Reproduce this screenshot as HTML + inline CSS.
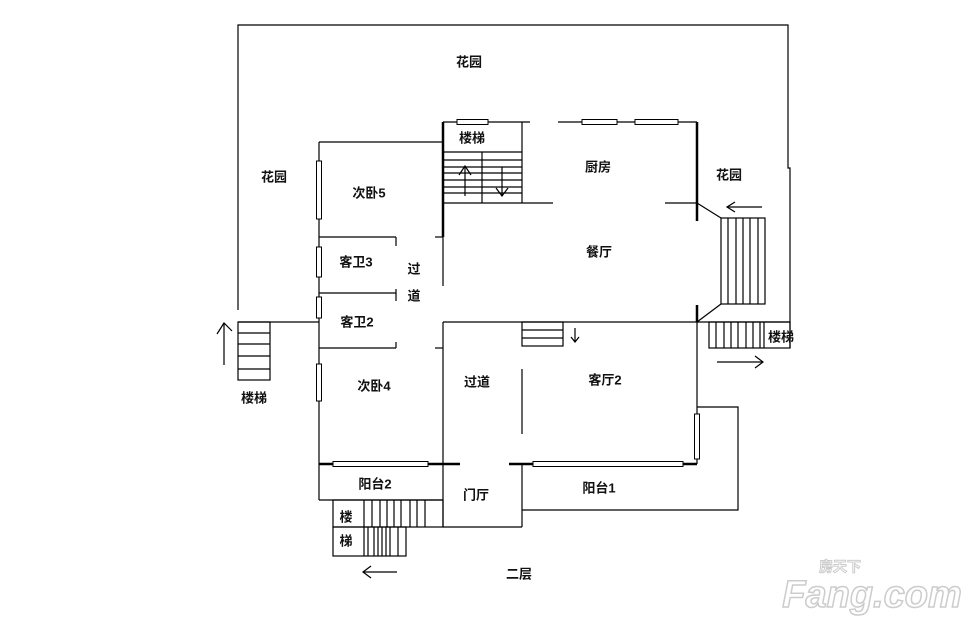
<!DOCTYPE html>
<html><head><meta charset="utf-8"><style>
html,body{margin:0;padding:0;background:#fff;}
svg{display:block;}
text{font-family:"Liberation Sans","Noto Sans CJK SC",sans-serif;font-size:13px;font-weight:bold;fill:#111;text-anchor:middle;dominant-baseline:middle;}
</style></head><body>
<svg width="980" height="629" viewBox="0 0 980 629" xmlns="http://www.w3.org/2000/svg">
<g stroke="#000" stroke-width="1.2" fill="none">
<polyline points="238,310 238,25 788,25 788,168 790,168 790,348"/>
<line x1="238" y1="322" x2="319" y2="322"/>
<rect x="238" y="322" width="32" height="58"/>
<line x1="238" y1="333" x2="270" y2="333"/><line x1="238" y1="344" x2="270" y2="344"/>
<line x1="238" y1="356" x2="270" y2="356"/><line x1="238" y1="369" x2="270" y2="369"/>
<line x1="224" y1="365" x2="224" y2="323"/><polyline points="217,334 224,323 232,331"/>
<line x1="319" y1="142" x2="319" y2="500"/>
<line x1="319" y1="142" x2="443" y2="142"/>
<line x1="319" y1="237" x2="396" y2="237"/><line x1="396" y1="237" x2="396" y2="246"/>
<line x1="435" y1="237" x2="443" y2="237"/>
<line x1="319" y1="293" x2="396" y2="293"/><line x1="396" y1="289" x2="396" y2="301"/>
<line x1="319" y1="348" x2="396" y2="348"/><line x1="396" y1="342" x2="396" y2="348"/>
<line x1="435" y1="348" x2="443" y2="348"/>
<line x1="443" y1="237" x2="443" y2="286"/>
<line x1="443" y1="122" x2="443" y2="237" stroke-width="2.5"/>
<line x1="443" y1="122" x2="530" y2="122"/>
<line x1="558" y1="122" x2="697" y2="122"/>
<line x1="443" y1="152" x2="522" y2="152"/>
<line x1="443" y1="160" x2="522" y2="160"/><line x1="443" y1="167" x2="522" y2="167"/>
<line x1="443" y1="173" x2="522" y2="173"/><line x1="443" y1="180" x2="522" y2="180"/>
<line x1="443" y1="187" x2="522" y2="187"/><line x1="443" y1="193" x2="522" y2="193"/>
<line x1="443" y1="203" x2="553" y2="203"/>
<line x1="482" y1="152" x2="482" y2="203"/><line x1="522" y1="122" x2="522" y2="203"/>
<line x1="465" y1="196" x2="465" y2="167"/><polyline points="459,175 465,166 471,175"/>
<line x1="502" y1="167" x2="502" y2="196"/><polyline points="496,188 502,196 508,188"/>
<line x1="665" y1="203" x2="697" y2="203"/>
<line x1="697" y1="122" x2="697" y2="221" stroke-width="2.5"/>
<line x1="697" y1="305" x2="697" y2="322" stroke-width="2.5"/>
<line x1="697" y1="203" x2="721" y2="218"/><line x1="721" y1="304" x2="697" y2="322"/>
<rect x="721" y="218" width="44" height="86"/>
<line x1="728" y1="218" x2="728" y2="304"/><line x1="736" y1="218" x2="736" y2="304"/>
<line x1="743" y1="218" x2="743" y2="304"/><line x1="750" y1="218" x2="750" y2="304"/>
<line x1="758" y1="218" x2="758" y2="304"/>
<line x1="727" y1="207" x2="762" y2="207"/><polyline points="735,202 727,207 735,212"/>
<line x1="443" y1="322" x2="790" y2="322"/>
<rect x="709" y="322" width="81" height="26"/>
<line x1="716" y1="322" x2="716" y2="348"/><line x1="724" y1="322" x2="724" y2="348"/>
<line x1="731" y1="322" x2="731" y2="348"/><line x1="738" y1="322" x2="738" y2="348"/>
<line x1="746" y1="322" x2="746" y2="348"/><line x1="753" y1="322" x2="753" y2="348"/>
<line x1="760" y1="322" x2="760" y2="348"/><line x1="764" y1="322" x2="764" y2="348"/>
<line x1="717" y1="362" x2="763" y2="362"/><polyline points="755,356 763,362 755,368"/>
<line x1="443" y1="322" x2="443" y2="527"/>
<line x1="697" y1="322" x2="697" y2="464"/>
<polyline points="697,407 738,407 738,510 522,510"/>
<line x1="522" y1="369" x2="522" y2="434"/>
<line x1="522" y1="464" x2="522" y2="527"/>
<line x1="443" y1="527" x2="522" y2="527"/>
<rect x="522" y="322" width="41" height="24"/>
<line x1="522" y1="330" x2="563" y2="330"/><line x1="522" y1="338" x2="563" y2="338"/>
<line x1="575" y1="328" x2="575" y2="342"/><polyline points="571,337 575,342 579,337"/>
<line x1="319" y1="464" x2="460" y2="464" stroke-width="2.5"/>
<line x1="509" y1="464" x2="697" y2="464" stroke-width="2.5"/>
<line x1="319" y1="500" x2="443" y2="500"/>
<rect x="333" y="500" width="110" height="27"/>
<line x1="364" y1="500" x2="364" y2="556"/>
<line x1="372" y1="500" x2="372" y2="527"/><line x1="380" y1="500" x2="380" y2="527"/>
<line x1="387" y1="500" x2="387" y2="527"/><line x1="394" y1="500" x2="394" y2="527"/>
<line x1="401" y1="500" x2="401" y2="527"/><line x1="410" y1="500" x2="410" y2="527"/>
<line x1="417" y1="500" x2="417" y2="527"/><line x1="425" y1="500" x2="425" y2="527"/>
<rect x="333" y="527" width="73" height="29"/>
<line x1="368" y1="527" x2="368" y2="556"/><line x1="374" y1="527" x2="374" y2="556"/>
<line x1="378" y1="527" x2="378" y2="556"/><line x1="382" y1="527" x2="382" y2="556"/>
<line x1="386" y1="527" x2="386" y2="556"/><line x1="390" y1="527" x2="390" y2="556"/>
<line x1="398" y1="527" x2="398" y2="556"/>
<line x1="363" y1="572" x2="397" y2="572"/><polyline points="371,566 363,572 371,578"/>
</g>
<g stroke="#000" stroke-width="1" fill="#fff">
<rect x="316.5" y="161" width="5" height="58"/>
<rect x="316.5" y="247" width="5" height="30"/>
<rect x="316.5" y="297" width="5" height="21"/>
<rect x="316.5" y="364" width="5" height="37"/>
<rect x="457" y="119.5" width="31" height="5"/>
<rect x="582" y="119.5" width="35" height="5"/>
<rect x="635" y="119.5" width="43" height="5"/>
<rect x="694.5" y="414" width="5" height="45"/>
<rect x="333" y="461.5" width="95" height="5"/>
<rect x="533" y="461.5" width="150" height="5"/>
</g>
<g transform="translate(0,2)">
<text x="469" y="61">花园</text>
<text x="274" y="176">花园</text>
<text x="369" y="192">次卧5</text>
<text x="356" y="261">客卫3</text>
<text x="414" y="268">过</text>
<text x="414" y="295">道</text>
<text x="357" y="321">客卫2</text>
<text x="472" y="137">楼梯</text>
<text x="598" y="166">厨房</text>
<text x="599" y="251">餐厅</text>
<text x="729" y="174">花园</text>
<text x="781" y="336">楼梯</text>
<text x="254" y="397">楼梯</text>
<text x="605" y="379">客厅2</text>
<text x="477" y="381">过道</text>
<text x="374" y="385">次卧4</text>
<text x="375" y="483">阳台2</text>
<text x="476" y="494">门厅</text>
<text x="599" y="487">阳台1</text>
<text x="346" y="516">楼</text>
<text x="346" y="540">梯</text>
<text x="519" y="573">二层</text>
</g>
<text x="872" y="597" style="font-size:38px;font-weight:bold;fill:#fff;stroke:#ccc;stroke-width:1.5;font-style:italic">Fang.com</text>
<text x="840" y="568" style="font-size:14px;fill:#fff;stroke:#ccc;stroke-width:1">房天下</text>
</svg>
</body></html>
